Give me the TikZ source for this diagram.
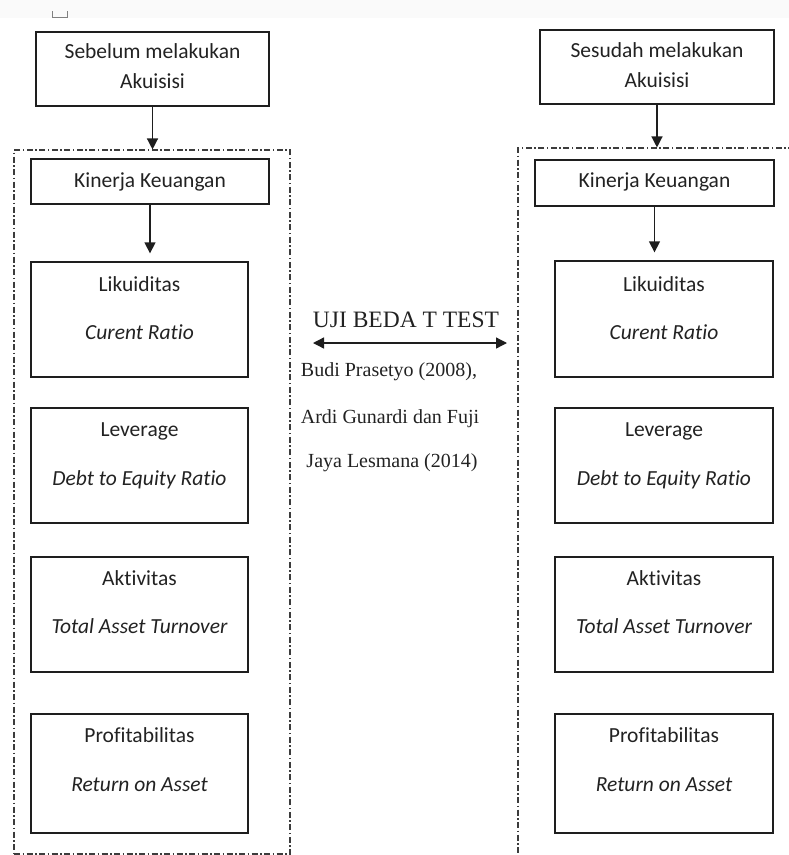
\documentclass[tikz,border=0pt]{standalone}
\usepackage{fontspec}
\setmainfont{Carlito}[RawFeature=-liga]
\newfontfamily\timesfont{Liberation Serif}
\usetikzlibrary{arrows.meta,positioning}
\definecolor{garis}{HTML}{1E1E1E}
\definecolor{putus}{HTML}{3C3C3C}
\definecolor{teks}{HTML}{222222}

\begin{document}
\begin{tikzpicture}[x=1pt,y=-1pt,>={Triangle[width=11pt,length=11pt]},
  every node/.style={font=\fontsize{21.5}{26}\selectfont,text=teks},
  kotak/.style={draw=garis,line width=1.3pt,inner sep=0pt},
  bingkai/.style={draw=putus,line width=1.1pt,dash pattern=on 6pt off 2.5pt on 1.5pt off 2.5pt},
  panah/.style={->,garis,line width=1.3pt},
  judul/.style={anchor=base},
  rasio/.style={anchor=base,font=\fontsize{21.5}{26}\selectfont\itshape},
  uji/.style={anchor=base,font=\timesfont\fontsize{20}{24}\selectfont}]
\useasboundingbox (0,0) rectangle (789,855);
\clip (0,0) rectangle (789,855);
\fill[black!2] (0,0) rectangle (789,18);
\draw[gray,line width=0.8pt] (52,11) |- (67,17) -- (67,11);
% sebelum akuisisi
\node[kotak,minimum width=233pt,minimum height=74pt] (preL) at (152.5,69) {};
\node[judul] at ([yshift=-27pt]preL.north) {Sebelum melakukan};
\node[judul] at ([yshift=-57pt]preL.north) {Akuisisi};
\node[bingkai,minimum width=276pt,minimum height=704pt] (frameL) at (152,502) {};
\node[kotak,minimum width=238pt,minimum height=45pt] (kinL) at (150,181.5) {};
\node[judul] at ([yshift=-29pt]kinL.north) {Kinerja Keuangan};
\node[kotak,minimum width=217pt,minimum height=115pt] (likL) at (139.5,319.5) {};
\node[judul] at ([yshift=-30pt]likL.north) {Likuiditas};
\node[rasio] at ([yshift=-78pt]likL.north) {Curent Ratio};
\node[kotak,minimum width=217pt,minimum height=115pt] (levL) at (139.5,465.5) {};
\node[judul] at ([yshift=-29pt]levL.north) {Leverage};
\node[rasio] at ([yshift=-78pt]levL.north) {Debt to Equity Ratio};
\node[kotak,minimum width=217pt,minimum height=115pt] (aktL) at (139.5,614.5) {};
\node[judul] at ([yshift=-29pt]aktL.north) {Aktivitas};
\node[rasio] at ([yshift=-77pt]aktL.north) {Total Asset Turnover};
\node[kotak,minimum width=217pt,minimum height=119pt] (proL) at (139.5,773.5) {};
\node[judul] at ([yshift=-29pt]proL.north) {Profitabilitas};
\node[rasio] at ([yshift=-78pt]proL.north) {Return on Asset};
\draw[panah] (preL.south) -- (preL.south |- frameL.north);
\draw[panah,shorten >=8pt] (kinL.south) -- (kinL.south |- likL.north);
% sesudah akuisisi
\node[kotak,minimum width=234pt,minimum height=74pt] (preR) at (657,67) {};
\node[judul] at ([yshift=-28pt]preR.north) {Sesudah melakukan};
\node[judul] at ([yshift=-58pt]preR.north) {Akuisisi};
\node[bingkai,minimum width=312pt,minimum height=752pt] (frameR) at (674,524) {};
\node[kotak,minimum width=239pt,minimum height=46pt] (kinR) at (654.5,183) {};
\node[judul] at ([yshift=-28pt]kinR.north) {Kinerja Keuangan};
\node[kotak,minimum width=218pt,minimum height=116pt] (likR) at (664,319) {};
\node[judul] at ([yshift=-31pt]likR.north) {Likuiditas};
\node[rasio] at ([yshift=-79pt]likR.north) {Curent Ratio};
\node[kotak,minimum width=218pt,minimum height=115pt] (levR) at (664,465.5) {};
\node[judul] at ([yshift=-29pt]levR.north) {Leverage};
\node[rasio] at ([yshift=-78pt]levR.north) {Debt to Equity Ratio};
\node[kotak,minimum width=218pt,minimum height=115pt] (aktR) at (664,614.5) {};
\node[judul] at ([yshift=-29pt]aktR.north) {Aktivitas};
\node[rasio] at ([yshift=-77pt]aktR.north) {Total Asset Turnover};
\node[kotak,minimum width=218pt,minimum height=119pt] (proR) at (664,773.5) {};
\node[judul] at ([yshift=-29pt]proR.north) {Profitabilitas};
\node[rasio] at ([yshift=-78pt]proR.north) {Return on Asset};
\draw[panah] (preR.south) -- (preR.south |- frameR.north);
\draw[panah,shorten >=8pt] (kinR.south) -- (kinR.south |- likR.north);
% uji beda
\node[uji,font=\timesfont\fontsize{23.5}{28}\selectfont] (ujiT) at (406,327) {UJI BEDA T TEST};
\coordinate (ujiA) at (313,343);
\coordinate (ujiB) at (507,343);
\draw[<->,garis,line width=1.3pt] (ujiA) -- (ujiB);
\node[uji] (rujuk1) at (389,376) {Budi Prasetyo (2008),};
\node[uji] (rujuk2) at (390,423) {Ardi Gunardi dan Fuji};
\node[uji] (rujuk3) at (392,467) {Jaya Lesmana (2014)};
\end{tikzpicture}
\end{document}
